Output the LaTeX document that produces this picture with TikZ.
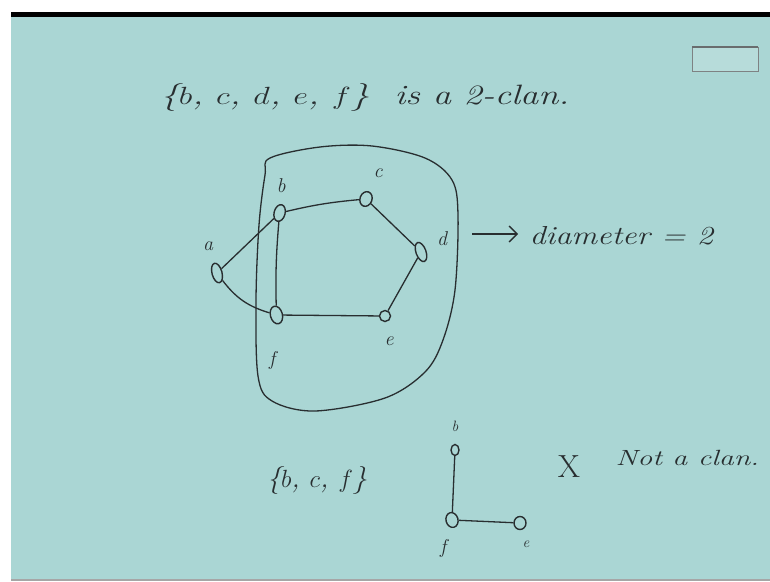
\documentclass[tikz,border=0pt]{standalone}
\usepackage{fontspec}
\usetikzlibrary{shapes.geometric,arrows.meta}
\definecolor{board}{RGB}{170,214,212}
\definecolor{pen}{RGB}{40,46,48}
\begin{document}
\begin{tikzpicture}[x=1pt,y=-1pt,
  vtx/.style={draw=pen,ellipse,line width=1.4pt,inner sep=0pt,minimum width=11pt,minimum height=17pt},
  edge/.style={draw=pen,line width=1.3pt},
  hand/.style={text=pen,font=\fontsize{28}{30}\selectfont\itshape},
  lbl/.style={text=pen,font=\fontsize{20}{22}\selectfont\itshape},
  small/.style={text=pen,font=\fontsize{15}{17}\selectfont\itshape}]
\useasboundingbox (0,0) rectangle (770,581);
\fill[white] (0,0) rectangle (770,581);
\fill[board] (11,17) rectangle (770,579);
\fill[black] (11,12) rectangle (770,17);
\fill[gray!70] (11,579) rectangle (770,581);
% stamp
\draw[pen!60,line width=0.8pt,fill=board!85!white] (692,47) rectangle (758,71);
\draw[pen!70,line width=1.6pt] (692,47) -- (758,47);
% title
\node[hand] (title) at (365,97) {\scalebox{1.3}[1]{\{$b$, $c$, $d$, $e$, $f$\} \ is a 2-clan.}};
% graph
\node[vtx,rotate=-15] (b) at (279.6,213) {};
\node[vtx,rotate=-20,minimum width=12pt,minimum height=15pt] (c) at (366,199) {};
\node[vtx,rotate=20,minimum width=10pt,minimum height=20pt] (d) at (421,252) {};
\node[vtx,rotate=15,minimum width=10pt,minimum height=20pt] (a) at (217,273) {};
\node[vtx,rotate=15,minimum width=12pt,minimum height=18pt] (f) at (276.4,315) {};
\node[vtx,minimum width=11pt,minimum height=11pt] (e) at (385,316) {};
\node[lbl] (lb) at (281,186) {b};
\node[lbl] (lc) at (378,173) {c};
\node[lbl] (ld) at (442,239) {d};
\node[lbl] (la) at (208,246) {a};
\node[lbl] (lf) at (272,360) {f};
\node[lbl] (le) at (389,341) {e};
\draw[edge] (a) -- (b);
\draw[edge] (a) to[bend right=18] (f);
\draw[edge] (b) to[bend left=4] (c);
\draw[edge] (c) -- (d);
\draw[edge] (d) -- (e);
\draw[edge] (e) -- (f);
\draw[edge] (b) to[bend right=3] (f);
% clan boundary
\draw[edge] plot[smooth cycle,tension=0.55] coordinates {(270,158) (320,147) (372,146) (425,158) (452,180) (458,215) (455,290) (443,340) (425,372) (385,398) (315,411) (272,401) (258,376) (256,300) (259,225) (265,175)};
% arrow
\coordinate (arrS) at (472,234);
\coordinate (arrE) at (518,234);
\draw[edge,-{Straight Barb[length=8pt,width=16pt,line width=1.3pt]}] (arrS) -- (arrE);
\node[hand,anchor=west,font=\fontsize{26}{30}\selectfont\itshape] (diam) at (526,236) {\scalebox{1.24}[1]{diameter = 2}};
% bottom
\node[hand] (set2) at (317,480) {\{$b$, $c$, $f$\}};
\node[vtx,minimum width=8pt,minimum height=11pt] (b2) at (455,450) {};
\node[vtx,rotate=15,minimum width=12pt,minimum height=15pt] (f2) at (452,520) {};
\node[vtx,minimum width=12pt,minimum height=13pt] (e2) at (520,523) {};
\node[small] (lb2) at (455,426) {b};
\node[lbl] (lf2) at (443,548) {f};
\node[small] (le2) at (526,544) {e};
\draw[edge] (b2) -- (f2);
\draw[edge] (f2) -- (e2);
\node[text=pen,font=\fontsize{32}{34}\selectfont] (cross) at (569,467) {X};
\node[hand,anchor=west,font=\fontsize{22}{24}\selectfont\itshape] (notclan) at (612,458) {\scalebox{1.36}[1]{Not a clan.}};
\end{tikzpicture}
\end{document}
